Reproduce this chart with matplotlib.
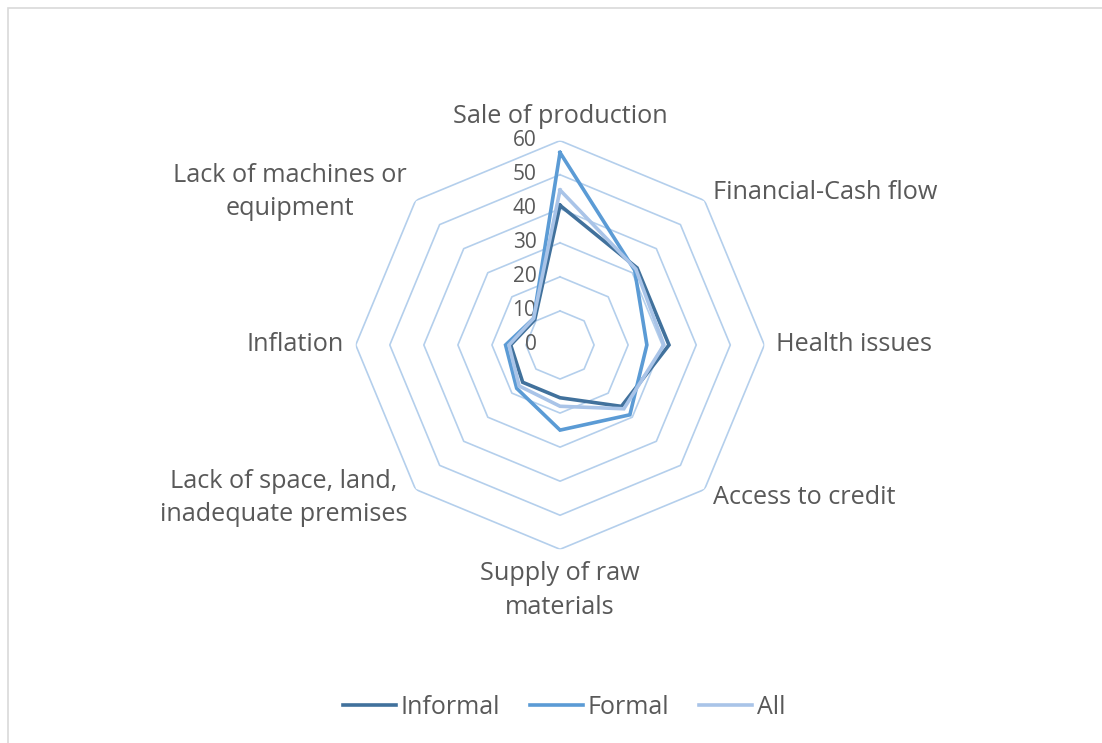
import numpy as np
import matplotlib
matplotlib.use("Agg")
import matplotlib.pyplot as plt
from matplotlib.patches import Rectangle

categories = ["Sale of production", "Financial-Cash flow", "Health issues",
              "Access to credit", "Supply of raw\nmaterials",
              "Lack of space, land,\ninadequate premises", "Inflation",
              "Lack of machines or\nequipment"]
informal = [41, 32, 32, 25.5, 15.5, 15.5, 14.5, 10.5]
formal = [56.5, 31, 25.5, 29, 25, 18, 16, 11]
all_firms = [45.5, 31.5, 30.5, 26.5, 18, 17, 15, 11]
ring_levels = [10, 20, 30, 40, 50, 60]
tick_labels = ["0", "10", "20", "30", "40", "50", "60"]

plt.rcParams['font.family'] = ['Open Sans', 'DejaVu Sans']
txt = "#595959"

fig = plt.figure(figsize=(11.02, 7.43), dpi=100)
fig.patches.append(Rectangle((8 / 1102, -0.1), 1.2, 1 - 8 / 743 + 0.1,
                             transform=fig.transFigure, fill=False,
                             edgecolor="#d9d9d9", linewidth=1.2))

ax = fig.add_axes([0.3228, 0.2607, 0.3708, 0.55], projection="polar")
ax.set_theta_zero_location("N")
ax.set_theta_direction(-1)
ax.set_ylim(0, 60)
ax.axis("off")

n = len(categories)
ang = np.linspace(0, 2 * np.pi, n, endpoint=False)
ang_c = np.append(ang, ang[0])

# octagonal grid rings
for lv in ring_levels:
    ax.plot(ang_c, [lv] * (n + 1), color="#b4cfec", lw=1.2, zorder=1)

series = [("Informal", informal, "#41719c"),
          ("Formal", formal, "#5b9bd5"),
          ("All", all_firms, "#a9c4e8")]
for name, vals, col in series:
    ax.plot(ang_c, list(vals) + [vals[0]], color=col, lw=2.6, label=name,
            zorder=3, solid_joinstyle="miter")

# value labels along the vertical axis
for i, t in enumerate(tick_labels):
    r = i * 10
    ax.annotate(t, xy=(0, r), xytext=(-17, 0), textcoords="offset points",
                ha="right", va="center", fontsize=15, color=txt, zorder=2)

# category labels
lab_r = 63.5
for a, lab in zip(ang, categories):
    deg = np.degrees(a) % 360
    if deg < 1:
        ha, va = "center", "bottom"
    elif abs(deg - 180) < 1:
        ha, va = "center", "top"
    elif deg < 180:
        ha, va = "left", "center"
    else:
        ha, va = "right", "center"
    ax.text(a, lab_r, lab, ha=ha, va=va, fontsize=18.2, color=txt,
            multialignment="center", linespacing=1.45)

leg = fig.legend(loc="center", bbox_to_anchor=(0.512, 1 - 707 / 743), ncol=3,
                 frameon=False, fontsize=18, handlelength=2.1,
                 handletextpad=0.2, columnspacing=1.2)
for t in leg.get_texts():
    t.set_color(txt)

fig.savefig("out.png", dpi=100, facecolor="white")
